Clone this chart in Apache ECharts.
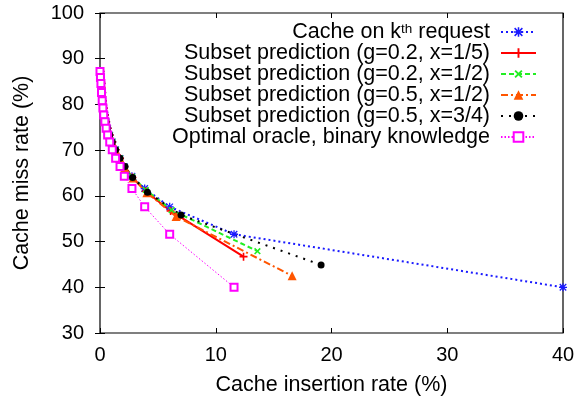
<!DOCTYPE html>
<html>
<head>
<meta charset="utf-8">
<script src="https://cdn.jsdelivr.net/npm/echarts@6/dist/echarts.min.js"></script>
<style>
  html, body { margin: 0; padding: 0; background: #fff; }
  #chart { width: 587px; height: 402px; }
</style>
</head>
<body>
<div id="chart"></div>
<script>
// series names (legend order = draw order)
const seriesNames = [
  'Cache on kth request',
  'Subset prediction (g=0.2, x=1/5)',
  'Subset prediction (g=0.2, x=1/2)',
  'Subset prediction (g=0.5, x=1/2)',
  'Subset prediction (g=0.5, x=3/4)',
  'Optimal oracle, binary knowledge'
]

// shared upper part of the curves
const headX = [0.04, 0.08, 0.13, 0.19, 0.25, 0.32, 0.42, 0.53, 0.66, 0.84, 1.06, 1.35, 1.73]
const headY = [87.2, 85.9, 84.6, 82.6, 80.8, 79.2, 77.7, 76.2, 74.8, 73.3, 71.8, 70.1, 68.2]

const kthX = [2.1, 2.76, 3.86, 6.02, 11.58, 40]
const kthY = [66.4, 64.3, 61.6, 57.6, 51.6, 40.0]

const g2x15X = [2.1, 2.8, 3.95, 6.1, 12.4]
const g2x15Y = [66.3, 64.0, 61.0, 56.7, 46.7]

const g2x12X = [2.1, 2.78, 3.95, 6.19, 13.6]
const g2x12Y = [66.4, 64.2, 61.3, 56.9, 47.9]

const g5x12X = [2.15, 2.85, 4.05, 6.57, 16.6]
const g5x12Y = [66.2, 63.9, 60.7, 55.5, 42.5]

const g5x34X = [2.16, 2.82, 4.1, 7.0, 19.1]
const g5x34Y = [66.4, 64.0, 60.8, 55.8, 44.9]

const oracleX = [0.0, 0.04, 0.08, 0.13, 0.19, 0.25, 0.32, 0.42, 0.53, 0.66, 0.84, 1.06, 1.35, 1.73, 2.1, 2.76, 3.86, 6.02, 11.58]
const oracleY = [87.2, 85.9, 84.6, 82.6, 80.8, 79.2, 77.7, 76.2, 74.8, 73.3, 71.8, 70.1, 68.2, 66.4, 64.3, 61.6, 57.6, 51.6, 40.0]

const xTicks = [0, 10, 20, 30, 40]
const yTicks = [30, 40, 50, 60, 70, 80, 90, 100]

const zip = (xs, ys) => xs.map((x, i) => [x, ys[i]])
const withHead = (xs, ys) => zip(headX.concat(xs), headY.concat(ys))

const FONT = 'Liberation Sans, Arial, Helvetica, sans-serif'
const PLUS = 'path://M4,0H6V10H4ZM0,4H10V6H0Z'
const STAR = 'path://M4.2,0H5.8V10H4.2ZM0,4.2H10V5.8H0ZM1.5,0.4L9.6,8.5L8.5,9.6L0.4,1.5ZM8.5,0.4L9.6,1.5L1.5,9.6L0.4,8.5Z'

const chart = echarts.init(document.getElementById('chart'))

const makeLine = (name, data, color, type, width, symbol, size, extra) => Object.assign({
  name,
  type: 'line',
  data,
  color,
  symbol,
  symbolSize: size,
  lineStyle: { color, type, width },
  itemStyle: { color },
  emphasis: { disabled: true },
  animation: false
}, extra || {})

const hiddenAxis = {
  show: true,
  axisLine: { show: false },
  axisTick: { show: true, inside: true, length: 5, lineStyle: { color: '#000' } },
  axisLabel: { show: false },
  splitLine: { show: false }
}

const option = {
  backgroundColor: '#fff',
  grid: {
    left: 100, right: 24, top: 13, bottom: 69,
    show: true, borderColor: '#000', borderWidth: 1.2
  },
  legend: {
    orient: 'vertical',
    align: 'right',
    right: 50,
    top: 21,
    padding: 0,
    itemWidth: 35,
    itemHeight: 12,
    itemGap: -1,
    data: seriesNames,
    formatter: n => n === seriesNames[0] ? 'Cache on k{sup|th} request' : n,
    textStyle: {
      fontFamily: FONT, fontSize: 21.5, color: '#000', lineHeight: 20,
      padding: [0, 6, 0, 0],
      rich: {
        sup: { fontFamily: FONT, fontSize: 13.5, color: '#000', lineHeight: 14, verticalAlign: 'top', padding: [0, 0, 5, 0] }
      }
    }
  },
  xAxis: [{
    type: 'value', min: 0, max: 40, interval: 10,
    name: 'Cache insertion rate (%)', nameLocation: 'middle', nameGap: 41,
    nameTextStyle: { fontFamily: FONT, fontSize: 21.5, color: '#000' },
    axisLine: { show: false },
    axisTick: { inside: true, length: 5, lineStyle: { color: '#000' } },
    axisLabel: { fontFamily: FONT, fontSize: 20, color: '#000', margin: 12,
      formatter: v => xTicks.includes(v) ? String(v) : '' },
    splitLine: { show: false }
  }, Object.assign({ type: 'value', min: 0, max: 40, interval: 10, position: 'top' }, hiddenAxis)],
  yAxis: [{
    type: 'value', min: 30, max: 100, interval: 10,
    name: 'Cache miss rate (%)', nameLocation: 'middle', nameGap: 67,
    nameTextStyle: { fontFamily: FONT, fontSize: 21.5, color: '#000' },
    axisLine: { show: false },
    axisTick: { inside: true, length: 5, lineStyle: { color: '#000' } },
    axisLabel: { fontFamily: FONT, fontSize: 20, color: '#000', margin: 16,
      formatter: v => yTicks.includes(v) ? String(v) : '' },
    splitLine: { show: false }
  }, Object.assign({ type: 'value', min: 30, max: 100, interval: 10, position: 'right' }, hiddenAxis)],
  series: [
    makeLine(seriesNames[0], withHead(kthX, kthY), '#1a1aff', [2, 3], 2, STAR, 8),
    makeLine(seriesNames[1], withHead(g2x15X, g2x15Y), '#ff0000', 'solid', 2, PLUS, 8),
    makeLine(seriesNames[2], withHead(g2x12X, g2x12Y), '#22ee22', [5, 3], 2, PLUS, 8, { symbolRotate: 45 }),
    makeLine(seriesNames[3], withHead(g5x12X, g5x12Y), '#ff5500', [7, 3, 2, 3], 2, 'triangle', 9),
    makeLine(seriesNames[4], withHead(g5x34X, g5x34Y), '#000000', [2, 6], 2, 'circle', 7),
    makeLine(seriesNames[5], zip(oracleX, oracleY), '#ff00ff', [1.5, 2], 1, 'emptyRect', 7,
      { itemStyle: { color: '#ff00ff', borderWidth: 2, borderColor: '#ff00ff' } })
  ]
}

chart.setOption(option)
</script>
</body>
</html>
